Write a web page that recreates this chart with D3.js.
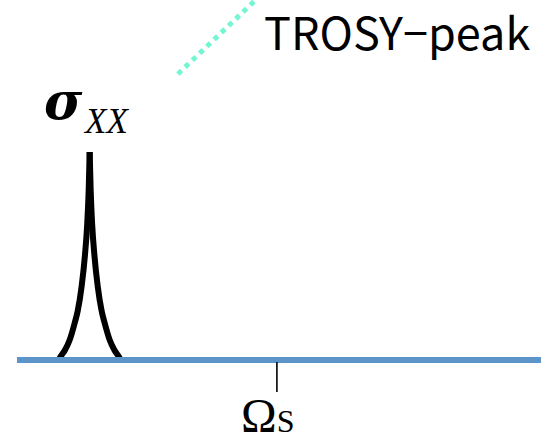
<!DOCTYPE html>
<html><head><meta charset="utf-8">
<script src="https://cdn.jsdelivr.net/npm/d3@7/dist/d3.min.js"></script>
<style>html,body{margin:0;padding:0;background:#fff;}svg{display:block;}</style>
</head><body>
<script>
// Spectrum data (arbitrary shift units, relative intensity)
const peakLeftX  = [7.95, 8.26, 9.16, 10.05, 11.01, 11.58, 12.34, 12.97, 13.39, 13.68, 13.87];
const peakLeftY  = [0.0, 0.014, 0.048, 0.096, 0.178, 0.235, 0.355, 0.505, 0.649, 0.817, 1.0];
const peakRightX = [13.87, 14.06, 14.35, 14.77, 15.40, 16.16, 16.73, 17.69, 18.58, 19.48, 19.79];
const peakRightY = [1.0, 0.817, 0.649, 0.505, 0.355, 0.235, 0.178, 0.096, 0.048, 0.014, 0.0];
const baseX = [0, 100];
const omegaS = 49.6;
const trosyX = [30.7, 45.5];
const trosyY = [1.375, 1.73];
const labels = {peak: "TROSY−peak", sigma: "σ", sigmaSub: "XX", omega: "Ω", omegaSub: "S"};

const W = 541, H = 439;
const svg = d3.select("body").append("svg").attr("width", W).attr("height", H);
const x = d3.scaleLinear().domain([0, 100]).range([17, 541]);
const y = d3.scaleLinear().domain([0, 1]).range([360, 152]);

// peak (two halves, so the cusp stays sharp)
const line = d3.line().x(d => x(d[0])).y(d => y(d[1])).curve(d3.curveMonotoneX);
[[peakLeftX, peakLeftY], [peakRightX, peakRightY]].forEach(([px, py]) => {
  svg.append("path").attr("d", line(px.map((v, i) => [v, py[i]])))
    .attr("fill", "none").attr("stroke", "#000").attr("stroke-width", 6)
    .attr("stroke-linecap", "butt");
});

// baseline
svg.append("line").attr("x1", x(baseX[0])).attr("x2", x(baseX[1]))
  .attr("y1", y(0)).attr("y2", y(0))
  .attr("stroke", "#5b94c9").attr("stroke-width", 6);

// Omega tick
svg.append("line").attr("x1", x(omegaS)).attr("x2", x(omegaS))
  .attr("y1", y(0) + 2).attr("y2", y(0) + 32)
  .attr("stroke", "#000").attr("stroke-width", 1.6);

// TROSY dotted line
svg.append("line").attr("x1", x(trosyX[0])).attr("y1", y(trosyY[0]))
  .attr("x2", x(trosyX[1])).attr("y2", y(trosyY[1]))
  .attr("stroke", "#74f6d3").attr("stroke-width", 5).attr("stroke-dasharray", "5,5");

// labels
svg.append("text").attr("x", 264).attr("y", 50)
  .attr("font-family", "'Noto Sans CJK JP'").attr("font-size", 45).attr("fill", "#000")
  .text(labels.peak);

svg.append("text").attr("x", 44).attr("y", 119)
  .attr("font-family", "'DejaVu Serif'").attr("font-size", 52)
  .attr("font-weight", "bold").attr("font-style", "italic").attr("fill", "#000")
  .text(labels.sigma);
svg.append("text").attr("x", 85).attr("y", 133)
  .attr("font-family", "'Liberation Serif'").attr("font-size", 35)
  .attr("font-style", "italic").attr("fill", "#000")
  .text(labels.sigmaSub);

const om = svg.append("text").attr("x", 241).attr("y", 432)
  .attr("font-family", "'Liberation Serif'").attr("fill", "#000");
om.append("tspan").attr("font-size", 48).text(labels.omega);
om.append("tspan").attr("font-size", 32).text(labels.omegaSub);
</script>
</body></html>
